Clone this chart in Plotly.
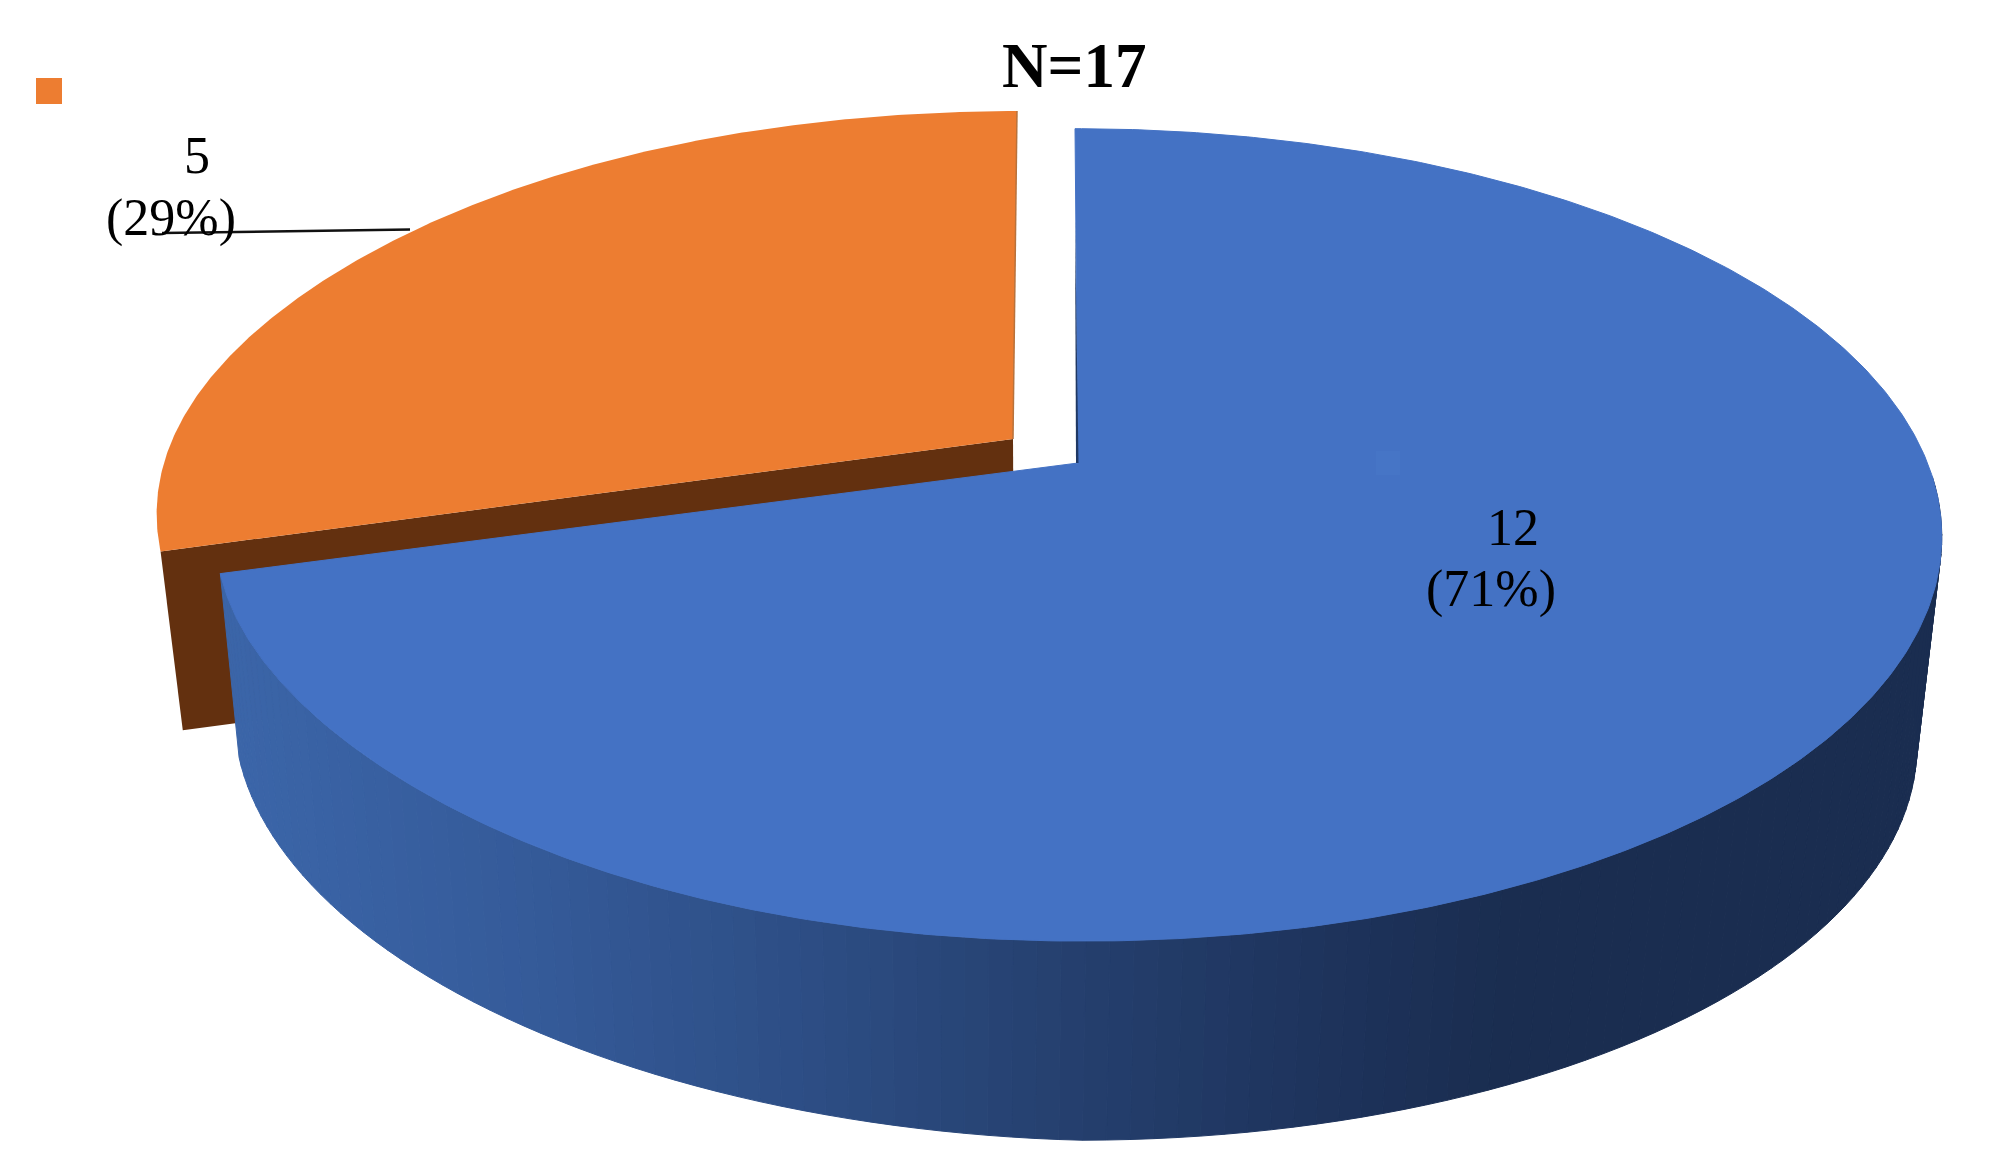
import numpy as np
import plotly.graph_objects as go

# ---- data ----
labels = ["Blue group", "Orange group"]
values = [12, 5]
slice_colors = ["#4472C4", "#ED7D31"]

# ---- geometry of the perspective pie (pixels of a 2000x1167 canvas) ----
P = -0.177  # perspective strength
# lift: raises the left half of a disc; bump: (pixels, centre angle, width) local edge correction
DISCS = {
    "blue_top": dict(cx=1078, cy=463, a=849.5, k=393.5, sk=3.5, lift=0, bump=(-7, 232, 22)),
    "blue_bot": dict(cx=1075, cy=674, a=828, k=383.7, sk=3.5, lift=28, bump=(0, 0, 1)),
    "orange_top": dict(cx=1013, cy=439, a=842, k=386, sk=-4.7, lift=0, bump=(6, 290, 30)),
    "orange_bot": dict(cx=1014, cy=622, a=821, k=376, sk=-4.7, lift=0, bump=(0, 0, 1)),
}
SIDE_STOPS = [(240, (59, 101, 168)), (520, (53, 91, 154)), (800, (45, 78, 133)),
              (1100, (36, 62, 108)), (1350, (29, 50, 90)), (1500, (26, 45, 80)), (1950, (26, 45, 80))]


def disc(name, theta_deg):
    d = DISCS[name]
    deg = np.asarray(theta_deg, dtype=float)
    t = np.radians(deg)
    u, v = np.sin(t), -np.cos(t)
    den = 1 + P * v
    b, bc, bw = d["bump"]
    extra = d["lift"] * np.minimum(u, 0) + b * np.exp(-(((deg - bc) / bw) ** 2))
    return d["cx"] + (d["a"] * u + d["sk"] * v) / den, d["cy"] + d["k"] * v / den + extra


def side_color(x):
    xs = [s[0] for s in SIDE_STOPS]
    rgb = [np.interp(x, xs, [s[1][i] for s in SIDE_STOPS]) for i in range(3)]
    return "rgb(%d,%d,%d)" % tuple(int(round(c)) for c in rgb)


def poly(x, y, color, line=0.0):
    return go.Scatter(x=list(x), y=list(y), mode="lines", fill="toself", fillcolor=color,
                      line=dict(color=color, width=line), hoverinfo="skip", showlegend=False)


total = sum(values)
split = 360.0 * values[0] / total
fig = go.Figure()

# orange slice: cut face, then top
xt, yt = disc("orange_top", [split])
xb, yb = disc("orange_bot", [split])
ox, oy = DISCS["orange_top"]["cx"], DISCS["orange_top"]["cy"]
bx, by = DISCS["orange_bot"]["cx"], DISCS["orange_bot"]["cy"]
fig.add_trace(poly([ox, xt[0], xb[0], bx, ox], [oy, yt[0], yb[0], by, oy], "#63300F"))
th = np.linspace(split, 360, 300)
x, y = disc("orange_top", th)
fig.add_trace(poly(np.r_[ox, x, ox], np.r_[oy, y, oy], slice_colors[1]))
fig.add_trace(go.Scatter(x=[x[-1], ox], y=[y[-1], oy], mode="lines",
                         line=dict(color="#B8723C", width=1.5), hoverinfo="skip", showlegend=False))

# blue slice: shaded rim, then top
edges = np.linspace(92, split, 121)
for a0, a1 in zip(edges[:-1], edges[1:]):
    x0, y0 = disc("blue_top", [a0, a1])
    x1, y1 = disc("blue_bot", [a1, a0])
    fig.add_trace(poly(np.r_[x0, x1, x0[0]], np.r_[y0, y1, y0[0]],
                       side_color((x0.mean() + x1.mean()) / 2), 1.0))
th = np.linspace(0, split, 500)
x, y = disc("blue_top", th)
cx, cy = DISCS["blue_top"]["cx"], DISCS["blue_top"]["cy"]
fig.add_trace(poly(np.r_[cx, x, cx], np.r_[cy, y, cy], slice_colors[0], 1.0))
fig.add_trace(poly([1075, cx + 0.5, cx - 2, 1075], [220, cy, cy, 220], "#1F3864"))

# legend keys (keys without visible text), leader line
fig.add_trace(go.Scatter(x=[49], y=[91], mode="markers", hoverinfo="skip", showlegend=False,
                         marker=dict(symbol="square", size=26, color=slice_colors[1])))
fig.add_trace(go.Scatter(x=[1388], y=[463], mode="markers", hoverinfo="skip", showlegend=False,
                         marker=dict(symbol="square", size=24, color="#4675C6")))
fig.add_trace(go.Scatter(x=[162, 410], y=[233, 229.5], mode="lines", hoverinfo="skip", showlegend=False,
                         line=dict(color="#111111", width=2.5)))

SERIF = "Liberation Serif"
texts = [
    (1074, 66, f"<b>N={total}</b>", 63),
    (197, 155, f"{values[1]}", 52),
    (171, 218, f"({round(100 * values[1] / total)}%)", 52),
    (1513, 527, f"{values[0]}", 52),
    (1491, 589, f"({round(100 * values[0] / total)}%)", 52),
]
for tx, ty, s, size in texts:
    fig.add_annotation(x=tx, y=ty, text=s, showarrow=False, xanchor="center", yanchor="middle",
                       font=dict(family=SERIF, size=size, color="#000000"))

fig.update_layout(
    width=2000, height=1167, autosize=False,
    margin=dict(l=0, r=0, t=0, b=0),
    paper_bgcolor="white", plot_bgcolor="white", showlegend=False,
    xaxis=dict(range=[0, 2000], visible=False, fixedrange=True),
    yaxis=dict(range=[1167, 0], visible=False, fixedrange=True),
)
fig.write_html("out.html", config={"displayModeBar": False},
               post_script="document.body.style.margin='0';document.documentElement.style.overflow='hidden';")
